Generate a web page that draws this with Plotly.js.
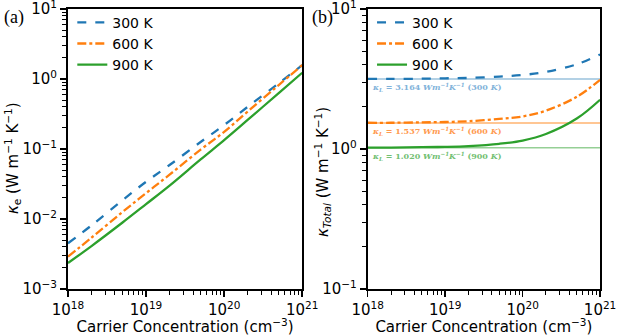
<!DOCTYPE html>
<html>
<head>
<meta charset="utf-8">
<script src="https://cdn.plot.ly/plotly-3.0.1.min.js"></script>
<style>
  html, body { margin: 0; padding: 0; background: #fff; }
  #chart { width: 618px; height: 336px; }
</style>
</head>
<body>
<div id="chart"></div>
<script>
// carrier concentration (cm^-3)
const carrier = [1e18, 2e18, 5e18, 1e19, 2e19, 5e19, 1e20, 2e20, 5e20, 1e21];

// (a) electronic thermal conductivity, W m^-1 K^-1
const ke300 = [0.0045, 0.0081, 0.0186, 0.034, 0.059, 0.126, 0.22, 0.40, 0.87, 1.58];
const ke600 = [0.0029, 0.0054, 0.0126, 0.0234, 0.043, 0.098, 0.176, 0.343, 0.82, 1.58];
const ke900 = [0.00235, 0.0041, 0.0089, 0.0163, 0.030, 0.071, 0.134, 0.26, 0.63, 1.23];

// (b) total thermal conductivity, W m^-1 K^-1
const kt300 = [3.17, 3.17, 3.18, 3.20, 3.22, 3.29, 3.38, 3.56, 4.03, 4.74];
const kt600 = [1.54, 1.54, 1.55, 1.56, 1.58, 1.64, 1.71, 1.88, 2.36, 3.12];
const kt900 = [1.024, 1.024, 1.03, 1.036, 1.05, 1.09, 1.15, 1.28, 1.65, 2.25];

// lattice thermal conductivity
const kL = [3.164, 1.537, 1.020];
const kLtemps = ['300', '600', '900'];
const kLrange = [1e18, 1e21];

// tick labels
const xTickExp = [18, 19, 20, 21];
const yTickExpA = [-3, -2, -1, 0, 1];
const yTickExpB = [-1, 0, 1];

const names = ['300 K', '600 K', '900 K'];
const colors = ['#1f77b4', '#ff7f0e', '#2ca02c'];
const light = ['rgba(31,119,180,0.45)', 'rgba(255,127,14,0.6)', 'rgba(44,160,44,0.5)'];
const textLight = ['#82b3da', '#ff9a50', '#72c072'];
const dashes = ['dash', 'dashdot', 'solid'];

const traces = [];
[ke300, ke600, ke900].forEach((y, i) => {
  traces.push({
    x: carrier, y: y, type: 'scatter', mode: 'lines', name: names[i],
    line: { color: colors[i], width: 2.3, dash: dashes[i], shape: 'spline' },
    xaxis: 'x', yaxis: 'y', legend: 'legend'
  });
});
kL.forEach((v, i) => {
  traces.push({
    x: kLrange, y: [v, v], type: 'scatter', mode: 'lines', showlegend: false,
    line: { color: light[i], width: 1.5 }, hoverinfo: 'skip', xaxis: 'x2', yaxis: 'y2'
  });
});
[kt300, kt600, kt900].forEach((y, i) => {
  traces.push({
    x: carrier, y: y, type: 'scatter', mode: 'lines', name: names[i],
    line: { color: colors[i], width: 2.3, dash: dashes[i], shape: 'spline' },
    xaxis: 'x2', yaxis: 'y2', legend: 'legend2'
  });
});

function logAxis(exps, extra) {
  return Object.assign({
    type: 'log', showline: true, linecolor: '#000', linewidth: 2, mirror: true,
    ticks: 'outside', ticklen: 6, tickwidth: 1.5, tickcolor: '#000',
    showgrid: false, zeroline: false, ticklabeloverflow: 'allow',
    tickmode: 'array',
    tickvals: exps.map(e => Math.pow(10, e)),
    ticktext: exps.map(e => '10<sup>' + String(e).replace('-', '−') + '</sup>'),
    tickfont: { size: 15, color: '#000' },
    minor: { ticks: 'outside', ticklen: 4, tickwidth: 1, tickcolor: '#000', dtick: 'D1', showgrid: false }
  }, extra);
}

const xTitle = { text: 'Carrier Concentration (cm<sup>−3</sup>)', font: { size: 15, color: '#000' }, standoff: 3 };

const legendBase = {
  bgcolor: 'rgba(0,0,0,0)', borderwidth: 0, font: { size: 14, color: '#000' },
  xanchor: 'left', yanchor: 'top', tracegroupgap: 0, itemwidth: 30
};

const annotations = [
  { text: '(a)', x: 2, y: 17 },
  { text: '(b)', x: 310, y: 17 },
  { text: '<i>κ</i><sub>e</sub> (W m<sup>−1</sup> K<sup>−1</sup>)', x: 12, y: 158, textangle: -90 },
  { text: '<i>κ<sub>Total</sub></i> (W m<sup>−1</sup> K<sup>−1</sup>)', x: 322, y: 172, textangle: -90 }
].map((a, i) => Object.assign(a, {
  x: a.x / 618, y: 1 - a.y / 336, xref: 'paper', yref: 'paper', showarrow: false,
  xanchor: i < 2 ? 'left' : 'center', yanchor: 'middle',
  font: i < 2 ? { family: 'Liberation Serif, serif', size: 18, color: '#000' } : { size: 15, color: '#000' }
}));
kL.forEach((v, i) => {
  annotations.push({
    text: '<i>κ<sub>L</sub></i> = ' + v.toFixed(3) + ' <i>Wm<sup>−1</sup>K<sup>−1</sup></i> (' + kLtemps[i] + ' <i>K</i>)',
    x: 18.03, y: Math.log10(v), xref: 'x2', yref: 'y2', xanchor: 'left', yanchor: 'top', yshift: -1,
    showarrow: false, font: { family: 'DejaVu Serif, serif', size: 8, color: textLight[i], weight: 'bold' }
  });
});

const domY = [0.140, 0.973];

const layout = {
  width: 618, height: 336,
  margin: { l: 0, r: 0, t: 0, b: 0 },
  paper_bgcolor: '#fff', plot_bgcolor: '#fff',
  font: { family: 'DejaVu Sans, sans-serif', color: '#000' },
  showlegend: true,
  xaxis: logAxis(xTickExp, { domain: [0.110, 0.489], range: [18, 21], anchor: 'y', title: xTitle }),
  yaxis: logAxis(yTickExpA, { domain: domY, range: [-3, 1], anchor: 'x' }),
  xaxis2: logAxis(xTickExp, { domain: [0.595, 0.971], range: [18, 21], anchor: 'y2', title: xTitle }),
  yaxis2: logAxis(yTickExpB, { domain: domY, range: [-1, 1], anchor: 'x2' }),
  legend: Object.assign({}, legendBase, { x: 0.117, y: 0.98 }),
  legend2: Object.assign({}, legendBase, { x: 0.602, y: 0.98 }),
  annotations: annotations
};

Plotly.newPlot('chart', traces, layout, { displayModeBar: false, staticPlot: true });
</script>
</body>
</html>
